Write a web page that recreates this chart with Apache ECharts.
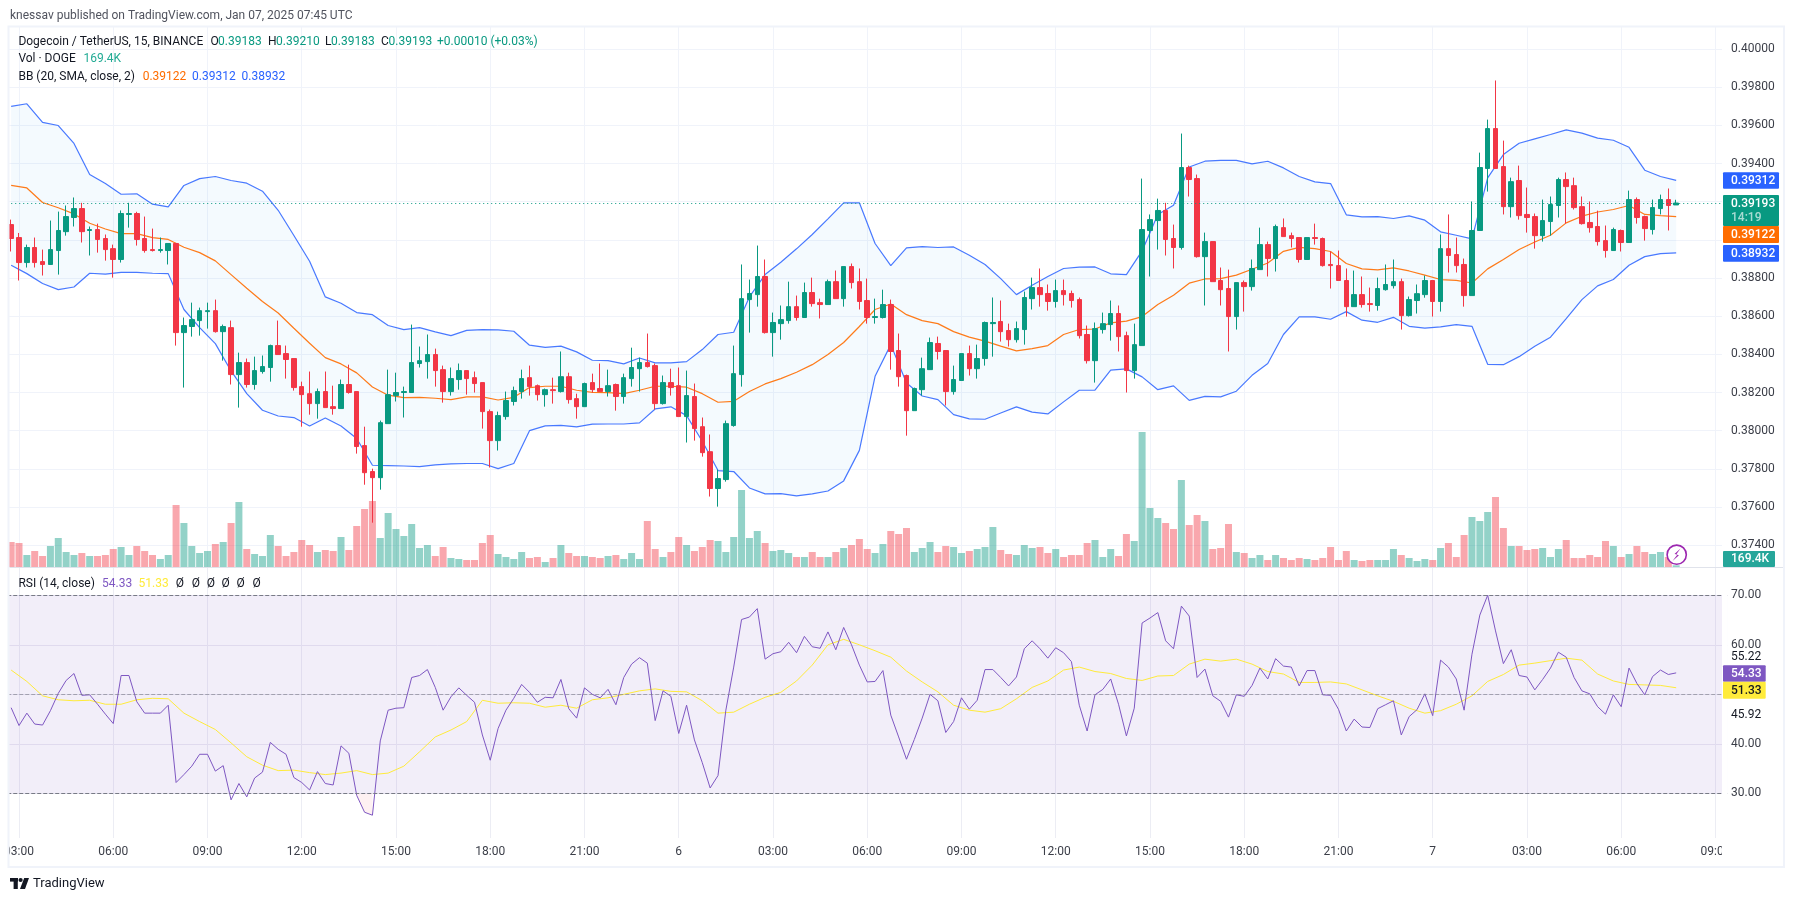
<!DOCTYPE html>
<html><head><meta charset="utf-8">
<style>html,body{margin:0;padding:0;background:#fff}#c{width:1794px;height:901px}</style>
<script src="https://cdn.jsdelivr.net/npm/echarts@6/dist/echarts.min.js"></script>
</head><body><div id="c"></div>
<script>
const FONT='Roboto';
const priceTicks=[0.374,0.376,0.378,0.38,0.382,0.384,0.386,0.388,0.39,0.392,0.394,0.396,0.398,0.4];
const rsiTicks=[30,40,50,60,70];
const open=[.39080,.39012,.38881,.38960,.38886,.38871,.38944,.39043,.39117,.39164,.39049,.39054,.39007,.38954,.38897,.39133,.39138,.39007,.38949,.38944,.38944,.38981,.38514,.38546,.38577,.38624,.38629,.38519,.38540,.38294,.38357,.38242,.38310,.38331,.38446,.38404,.38378,.38231,.38194,.38142,.38205,.38126,.38116,.38242,.38205,.37922,.37786,.37754,.38037,.38184,.38200,.38200,.38352,.38362,.38399,.38320,.38205,.38268,.38315,.38278,.38252,.38100,.37948,.38074,.38153,.38205,.38278,.38236,.38189,.38215,.38205,.38283,.38168,.38126,.38252,.38221,.38205,.38242,.38179,.38273,.38325,.38357,.38341,.38142,.38252,.38236,.38074,.38179,.38021,.37890,.37697,.37744,.38027,.38294,.38687,.38713,.38808,.38514,.38561,.38577,.38650,.38593,.38724,.38671,.38661,.38781,.38692,.38860,.38781,.38682,.38593,.38593,.38661,.38420,.38289,.38105,.38215,.38320,.38457,.38420,.38205,.38263,.38404,.38325,.38378,.38561,.38572,.38525,.38477,.38530,.38692,.38750,.38719,.38677,.38734,.38719,.38687,.38504,.38367,.38530,.38556,.38614,.38498,.38315,.38446,.39049,.39101,.39154,.39007,.38960,.39379,.39321,.38912,.38991,.38787,.38745,.38598,.38776,.38755,.38844,.38975,.38902,.39064,.39022,.39012,.38897,.39012,.39007,.38871,.38865,.38787,.38650,.38713,.38666,.38656,.38739,.38760,.38781,.38603,.38682,.38713,.38787,.38677,.38954,.38923,.38871,.38708,.39049,.39374,.39583,.39384,.39174,.39311,.39133,.39122,.39022,.39096,.39180,.39316,.39284,.39174,.39091,.39070,.38996,.38944,.39049,.38986,.39211,.39122,.39054,.39164,.39211,.39183];
const close=[.39007,.38881,.38960,.38881,.38871,.38949,.39049,.39122,.39164,.39043,.39054,.39002,.38949,.38897,.39138,.39138,.39002,.38944,.38944,.38949,.38981,.38514,.38551,.38582,.38629,.38629,.38519,.38546,.38294,.38357,.38242,.38315,.38336,.38446,.38399,.38373,.38226,.38189,.38142,.38205,.38121,.38116,.38242,.38200,.37917,.37780,.37754,.38042,.38189,.38200,.38205,.38357,.38367,.38399,.38315,.38205,.38273,.38315,.38273,.38247,.38100,.37948,.38079,.38158,.38210,.38273,.38231,.38189,.38215,.38210,.38283,.38163,.38126,.38247,.38215,.38205,.38236,.38179,.38278,.38331,.38357,.38336,.38142,.38252,.38226,.38074,.38184,.38011,.37885,.37697,.37749,.38037,.38299,.38692,.38719,.38808,.38514,.38567,.38582,.38650,.38593,.38724,.38666,.38661,.38781,.38692,.38860,.38776,.38677,.38593,.38598,.38661,.38415,.38283,.38105,.38221,.38325,.38462,.38415,.38205,.38268,.38404,.38325,.38378,.38567,.38567,.38519,.38477,.38535,.38698,.38750,.38713,.38677,.38734,.38713,.38682,.38498,.38367,.38535,.38561,.38614,.38493,.38315,.38451,.39054,.39106,.39154,.39002,.38960,.39379,.39316,.38912,.38991,.38781,.38739,.38598,.38776,.38755,.38850,.38975,.38902,.39070,.39017,.39007,.38897,.39012,.39007,.38865,.38865,.38787,.38650,.38713,.38661,.38661,.38745,.38766,.38781,.38603,.38687,.38718,.38787,.38677,.38954,.38918,.38865,.38708,.39049,.39379,.39583,.39374,.39174,.39305,.39127,.39117,.39022,.39101,.39185,.39316,.39279,.39169,.39085,.39064,.38991,.38944,.39054,.38986,.39211,.39117,.39059,.39169,.39211,.39180,.39193];
const low=[.38939,.38787,.38855,.38855,.38813,.38871,.38818,.39022,.39070,.38986,.38918,.38933,.38891,.38802,.38881,.39064,.38970,.38933,.38939,.38933,.38871,.38446,.38226,.38493,.38498,.38535,.38514,.38367,.38242,.38121,.38226,.38215,.38299,.38257,.38399,.38273,.38210,.38021,.38084,.38063,.38121,.38084,.38116,.38194,.37880,.37717,.37518,.37691,.38037,.38153,.38069,.38200,.38331,.38273,.38231,.38147,.38184,.38215,.38189,.38200,.38011,.37807,.37896,.38058,.38132,.38168,.38184,.38158,.38126,.38142,.38200,.38142,.38063,.38126,.38200,.38205,.38179,.38105,.38142,.38231,.38205,.38331,.38111,.38137,.38184,.38074,.37938,.37948,.37864,.37655,.37602,.37733,.38021,.38231,.38514,.38650,.38509,.38388,.38477,.38561,.38577,.38593,.38650,.38588,.38661,.38692,.38650,.38745,.38635,.38561,.38561,.38588,.38320,.38231,.37974,.38105,.38184,.38320,.38373,.38132,.38189,.38263,.38289,.38273,.38341,.38388,.38467,.38441,.38462,.38451,.38635,.38650,.38629,.38645,.38656,.38645,.38483,.38352,.38252,.38509,.38472,.38415,.38200,.38273,.38446,.38808,.38949,.38918,.38850,.38949,.39227,.38907,.38656,.38781,.38656,.38415,.38530,.38624,.38734,.38844,.38808,.38834,.39017,.38960,.38881,.38897,.38975,.38860,.38745,.38787,.38598,.38650,.38645,.38624,.38629,.38734,.38745,.38530,.38598,.38614,.38697,.38598,.38624,.38829,.38829,.38650,.38708,.39049,.39253,.39374,.39133,.39117,.39106,.39038,.38954,.38991,.39022,.39117,.39085,.39159,.39080,.39038,.38970,.38907,.38944,.38939,.38986,.39085,.38996,.39028,.39133,.39049,.39183];
const high=[.39106,.39036,.38975,.39012,.38949,.39101,.39148,.39180,.39222,.39194,.39070,.39085,.39028,.38975,.39154,.39194,.39147,.39122,.39059,.39012,.38981,.38984,.38593,.38671,.38645,.38671,.38687,.38556,.38577,.38409,.38378,.38388,.38394,.38451,.38577,.38446,.38378,.38257,.38310,.38221,.38310,.38236,.38268,.38346,.38205,.38021,.37801,.38053,.38320,.38304,.38231,.38556,.38441,.38504,.38430,.38341,.38331,.38352,.38315,.38310,.38252,.38111,.38100,.38205,.38231,.38320,.38341,.38242,.38221,.38278,.38415,.38304,.38194,.38252,.38299,.38352,.38320,.38247,.38299,.38435,.38383,.38509,.38352,.38289,.38325,.38331,.38315,.38247,.38069,.37980,.37796,.38053,.38446,.38871,.38792,.38970,.38897,.38619,.38656,.38781,.38708,.38776,.38802,.38692,.38792,.38839,.38860,.38876,.38850,.38797,.38692,.38739,.38687,.38509,.38294,.38226,.38383,.38488,.38493,.38420,.38341,.38404,.38446,.38451,.38572,.38698,.38682,.38561,.38572,.38729,.38802,.38850,.38766,.38792,.38792,.38734,.38698,.38551,.38567,.38619,.38682,.38656,.38519,.38561,.39321,.39133,.39216,.39194,.39080,.39557,.39389,.39342,.39038,.38991,.38855,.38844,.38776,.38787,.38897,.39064,.38991,.39080,.39112,.39038,.39012,.39012,.39085,.39012,.38939,.38944,.38850,.38839,.38808,.38750,.38802,.38871,.38897,.38797,.38703,.38766,.38813,.38787,.39028,.39133,.39012,.38902,.39201,.39457,.39630,.39835,.39520,.39326,.39389,.39274,.39138,.39211,.39227,.39326,.39353,.39326,.39227,.39201,.39153,.39075,.39064,.39054,.39258,.39222,.39127,.39211,.39237,.39269,.39210];
const volumeM=[2.5,2.4,1.2,1.6,1.1,2.1,2.9,1.5,1.2,1.4,1.1,1.1,1.2,1.8,2.0,1.2,2.1,1.6,1.2,0.8,1.2,6.2,4.4,2.1,1.4,1.6,2.3,2.5,4.4,6.5,1.8,1.3,1.1,3.2,2.1,1.1,1.5,2.7,2.2,1.5,1.7,1.6,3.0,1.7,4.1,5.8,6.6,2.9,5.4,3.8,3.1,4.3,1.9,2.2,1.1,2.0,0.9,0.8,0.7,0.7,2.4,3.2,1.3,1.0,0.8,1.5,0.9,1.0,0.5,0.9,2.2,1.4,1.1,1.1,1.0,0.9,1.1,1.2,0.8,1.4,0.8,4.6,1.8,1.0,1.5,3.0,2.2,1.6,2.0,2.7,2.6,1.5,3.0,7.7,2.9,3.6,2.4,1.6,1.7,1.4,1.0,1.0,1.5,1.0,1.0,1.5,1.9,2.2,2.8,1.8,1.4,2.3,3.6,3.3,3.9,1.5,1.9,2.5,1.5,2.1,2.0,1.4,1.6,1.8,2.0,4.0,1.7,1.3,1.2,2.2,1.9,2.0,1.4,1.8,1.0,1.2,1.2,2.4,2.7,1.0,1.8,1.1,3.3,2.6,13.5,5.9,4.9,4.4,3.8,8.7,4.2,5.2,4.6,1.8,1.9,4.3,1.5,1.4,0.9,1.2,0.7,1.2,0.9,0.7,0.9,0.8,0.7,0.9,2.0,0.7,1.6,0.7,0.6,0.7,0.7,0.7,1.8,1.2,0.9,0.6,0.8,0.7,1.9,2.4,1.0,3.2,5.0,4.6,5.5,7.0,3.9,2.1,2.1,1.7,1.8,1.9,1.0,1.8,2.7,0.9,0.9,1.2,1.0,2.6,2.1,1.0,1.3,2.1,1.5,1.3,1.5,1.0,0.1694];
const rsi=[47.3,43.7,46.2,44.0,43.8,46.7,50.2,52.8,54.2,49.8,49.9,48.0,46.0,44.1,53.8,53.8,48.5,46.2,46.2,46.2,47.8,32.2,33.8,35.5,37.9,37.9,34.5,35.6,28.7,32.0,29.3,33.1,34.3,40.3,38.9,37.9,33.2,32.2,30.7,34.4,32.0,31.7,39.6,38.1,29.6,26.2,25.6,40.6,46.8,47.2,47.3,53.4,53.8,55.0,51.4,46.8,49.5,51.3,49.8,48.4,41.8,36.7,43.1,46.8,49.2,52.0,50.4,48.4,49.4,49.3,53.0,47.1,45.2,51.3,50.0,49.3,51.0,47.9,53.4,56.1,57.4,56.3,44.7,50.7,49.6,42.1,47.8,40.8,36.2,31.1,33.6,46.8,55.5,65.1,65.6,67.3,57.1,58.2,58.6,60.5,58.4,61.7,59.6,59.3,62.6,59.0,63.5,60.0,55.9,52.5,52.6,54.8,45.8,41.4,36.9,40.9,45.2,50.0,48.7,42.3,44.5,49.3,47.0,48.8,55.0,55.0,53.4,51.7,53.5,59.2,60.8,59.2,57.3,59.4,58.4,56.6,47.8,42.6,49.9,51.0,53.1,48.0,41.6,47.2,64.4,65.4,66.5,60.8,59.2,67.8,65.8,53.4,55.1,49.7,48.6,45.4,49.9,49.6,51.8,55.3,53.1,57.2,55.7,55.5,51.7,54.8,54.8,49.9,49.8,47.0,42.6,45.0,43.4,43.3,47.1,47.9,48.7,41.8,45.5,46.9,50.1,45.7,56.9,55.5,53.1,46.8,58.1,66.0,70.0,62.8,56.2,59.0,53.8,53.5,50.9,53.0,55.3,58.5,57.5,53.4,50.7,50.1,47.5,46.0,49.9,47.5,55.3,52.2,49.9,53.6,54.9,54.0,54.33];
// The four series below were read every second bar (bars 1,3,5,...)
const bbUpper=[.39699,.39713,.39616,.39599,.39505,.39342,.39295,.39239,.39241,.39187,.39173,.39285,.39321,.39332,.39311,.39297,.39255,.39155,.39023,.38888,.38701,.38668,.38619,.38608,.38551,.38530,.38540,.38518,.38498,.38526,.38530,.38528,.38521,.38448,.38437,.38443,.38413,.38369,.38367,.38350,.38381,.38355,.38355,.38362,.38425,.38504,.38516,.38701,.38818,.38883,.38953,.39028,.39110,.39194,.39194,.38981,.38865,.38958,.38965,.38960,.38963,.38919,.38871,.38797,.38713,.38762,.38808,.38850,.38857,.38858,.38822,.38818,.38942,.39133,.39181,.39382,.39412,.39416,.39416,.39398,.39412,.39377,.39332,.39304,.39295,.39131,.39120,.39122,.39112,.39126,.39103,.39042,.39024,.39005,.39325,.39447,.39506,.39529,.39552,.39576,.39559,.39533,.39522,.39485,.39365,.39332,.39312];
const bbBasis=[.39285,.39272,.39196,.39168,.39136,.39087,.39057,.39033,.39033,.39012,.39002,.38961,.38933,.38890,.38818,.38746,.38677,.38617,.38537,.38458,.38383,.38350,.38303,.38229,.38186,.38173,.38175,.38170,.38163,.38177,.38177,.38161,.38175,.38226,.38233,.38233,.38212,.38201,.38200,.38194,.38212,.38233,.38233,.38228,.38194,.38149,.38154,.38205,.38245,.38273,.38306,.38346,.38399,.38462,.38546,.38635,.38664,.38608,.38577,.38561,.38519,.38490,.38469,.38443,.38418,.38430,.38446,.38504,.38530,.38533,.38565,.38574,.38598,.38661,.38710,.38773,.38795,.38797,.38815,.38846,.38879,.38940,.38961,.38954,.38939,.38876,.38848,.38843,.38853,.38837,.38815,.38792,.38788,.38774,.38848,.38897,.38949,.38989,.39024,.39089,.39124,.39146,.39159,.39180,.39133,.39127,.39122];
const bbLower=[.38867,.38823,.38771,.38739,.38753,.38825,.38820,.38830,.38830,.38825,.38823,.38635,.38540,.38456,.38313,.38194,.38107,.38077,.38069,.38025,.38067,.38025,.37959,.37819,.37817,.37815,.37812,.37821,.37826,.37828,.37828,.37801,.37828,.38000,.38025,.38028,.38020,.38034,.38035,.38035,.38041,.38114,.38125,.38079,.37945,.37791,.37786,.37700,.37669,.37670,.37658,.37669,.37684,.37737,.37897,.38285,.38451,.38250,.38182,.38163,.38084,.38062,.38060,.38093,.38125,.38097,.38088,.38151,.38212,.38212,.38317,.38324,.38282,.38215,.38235,.38159,.38180,.38177,.38207,.38290,.38352,.38504,.38596,.38596,.38584,.38624,.38579,.38568,.38594,.38547,.38537,.38544,.38556,.38547,.38348,.38346,.38388,.38442,.38490,.38587,.38687,.38759,.38792,.38867,.38912,.38928,.38932];
const rsiMA=[54.9,52.6,49.7,48.9,48.7,48.8,48.0,48.0,48.9,49.2,49.1,46.2,44.5,42.9,40.2,37.4,35.7,34.6,34.7,34.2,33.8,34.1,34.6,33.8,34.1,35.5,38.4,41.4,42.8,44.5,48.8,48.2,48.3,48.2,47.4,47.8,47.2,48.9,49.3,50.0,50.7,51.1,50.6,50.5,48.7,46.2,46.4,48.0,49.4,50.4,52.7,55.9,60.0,61.1,60.0,58.8,57.5,54.7,52.5,50.5,47.8,46.8,46.4,47.1,49.1,51.4,52.7,54.9,55.5,54.6,54.2,53.2,52.8,53.7,53.8,56.1,57.1,56.7,57.1,56.1,54.6,54.1,52.4,52.4,52.5,52.1,50.9,49.7,48.6,47.2,46.2,46.7,48.0,49.7,52.6,54.0,55.9,56.3,56.8,57.3,56.9,54.1,52.7,52.0,51.9,51.8,51.33];
const lastPrice=0.39193;
const GREEN='#089981',RED='#F23645',BLUE='#2962FF',ORANGE='#FF6D00',PURPLE='#7E57C2',YELLOW='#FFEB3B',INK='#131722';

// 02:45 on Jan 5 through the empty bars right of the last candle
const categories=[];
for(let i=0,m=2*60+45,d=5;i<219;i++,m+=15){
  if(m>=1440){m-=1440;d++;}
  const hh=String(Math.floor(m/60)).padStart(2,'0'),mm=String(m%60).padStart(2,'0');
  categories.push(m===0?String(d):hh+':'+mm);
}
const isMajor=(i,v)=>/^(\d|(03|06|09|12|15|18|21):00)$/.test(v);
const pairs=a=>a.map((v,k)=>[2*k,v]);
const ohlc=open.map((o,i)=>[o,close[i],low[i],high[i]]);
const volData=volumeM.map((v,i)=>({value:v,itemStyle:{color:close[i]>=open[i]?'rgba(8,153,129,.44)':'rgba(242,54,69,.44)'}}));
const gridColor='#f0f3fa';
const G=(o)=>Object.assign({left:7.22,width:1720},o);
const bandPoly=bbUpper.map((v,k)=>[2*k,v,bbLower[k]]);

const legendPieces=[
 [42.3,18.4,'Dogecoin / TetherUS, 15, BINANCE',INK],[42.3,210.5,'O',INK],[42.3,218,'0.39183',GREEN],[42.3,268,'H',INK],[42.3,276,'0.39210',GREEN],[42.3,325,'L',INK],[42.3,331,'0.39183',GREEN],[42.3,381,'C',INK],[42.3,388.5,'0.39193',GREEN],[42.3,437,'+0.00010 (+0.03%)',GREEN],
 [59.3,18.4,'Vol · DOGE',INK],[59.3,83.4,'169.4K','#22ab94'],
 [76.5,18.4,'BB (20, SMA, close, 2)',INK],[76.5,142.7,'0.39122',ORANGE],[76.5,192,'0.39312',BLUE],[76.5,241.5,'0.38932',BLUE],
 [583.5,18.4,'RSI (14, close)',INK],[583.5,102,'54.33',PURPLE],[583.5,138.5,'51.33',YELLOW],
 [583.5,175.7,'Ø',INK],[583.5,191.7,'Ø',INK],[583.5,206.7,'Ø',INK],[583.5,221.6,'Ø',INK],[583.5,236.5,'Ø',INK],[583.5,252.6,'Ø',INK]
];
const T=(x,y,text,fill,size,weight,z)=>({type:'text',z:z||60,x,y,silent:true,style:{text,fill,font:`${weight||400} ${size||12}px ${FONT}`,verticalAlign:'middle',textAlign:'left'}});
const R=(x,y,w,h,fill,z,r)=>({type:'rect',z:z||55,silent:true,shape:{x,y,width:w,height:h,r:r||0},style:{fill}});
const tags=[
 [172.3,16.4,56,BLUE,'0.39312','#fff'],[195,31,56,GREEN,'0.39193','#fff'],[226,17,56,ORANGE,'0.39122','#fff'],[245,16.7,56,BLUE,'0.38932','#fff'],
 [551,16,52,'#26a69a','169.4K','#fff'],[665.2,16.6,42.7,PURPLE,'54.33','#fff'],[681.8,17,42.7,YELLOW,'51.33',INK]
];
const graphic=[
 R(0,0,9,901,'#fff',50),R(1722,27,5.5,811,'#fff',50),R(1722,838,62,28,'#fff',50),
 R(0,0,1794,26,'#fff',50),R(0,868,1794,33,'#fff',50),R(1785,0,9,901,'#fff',50),
 {type:'rect',z:51,silent:true,shape:{x:8.5,y:26.5,width:1775.5,height:840.5},style:{fill:'none',stroke:gridColor,lineWidth:2}},
 {type:'line',z:52,silent:true,shape:{x1:9.6,y1:567.5,x2:1783,y2:567.5},style:{stroke:'#e0e3eb',lineWidth:1}},
 T(10,15.5,'knessav published on TradingView.com, Jan 07, 2025 07:45 UTC','#50535e',12),
 ...legendPieces.map(p=>T(p[1],p[0],p[2],p[3],12)),
 ...tags.map(t=>R(1723,t[0],t[2],t[1],t[3],56,1)),
 ...tags.map(t=>T(1731,t[0]+(t[4]==='0.39193'?8.5:t[1]/2+.3),t[4],t[5],12,500,57)),
 T(1731,218,'14:19','rgba(255,255,255,.65)',12,500,57),
 T(1731,656.7,'55.22',INK,12,400,57),T(1731,714.7,'45.92',INK,12,400,57),
 {type:'circle',z:58,silent:true,shape:{cx:1676.7,cy:554.7,r:9.6},style:{fill:'#fff',stroke:'#9C27B0',lineWidth:1.6}},
 {type:'polygon',z:59,silent:true,shape:{points:[[1680.5,548.5],[1674.5,554],[1677.5,554.5],[1672.5,561],[1679,555.2],[1676,554.8]]},style:{fill:'#9C27B0'}},
 R(10,878,8,3.6,INK,60),R(13.6,878,4.2,11,INK,60),
 {type:'circle',z:60,silent:true,shape:{cx:20.6,cy:880,r:2.1},style:{fill:INK}},
 {type:'polygon',z:60,silent:true,shape:{points:[[24.2,878],[29,878],[25,889],[20,889]]},style:{fill:INK}},
 T(33,883.5,'TradingView',INK,13)
];

const chart=echarts.init(document.getElementById('c'),null,{renderer:'canvas'});
chart.setOption({
 animation:false,backgroundColor:'#fff',
 textStyle:{fontFamily:FONT},
 grid:[G({top:27,height:540}),G({top:407,height:160}),G({top:568,height:270})],
 xAxis:[
  {type:'category',gridIndex:0,data:categories,axisLine:{show:false},axisTick:{show:false},axisLabel:{show:false},
   splitLine:{show:true,interval:isMajor,alignWithLabel:true,lineStyle:{color:gridColor,width:1}}},
  {type:'category',gridIndex:1,data:categories,axisLine:{show:false},axisTick:{show:false},axisLabel:{show:false},splitLine:{show:false}},
  {type:'category',gridIndex:2,data:categories,axisLine:{show:false},axisTick:{show:false},
   axisLabel:{interval:isMajor,color:'#3b3e48',fontSize:12,fontFamily:FONT,margin:8,hideOverlap:false},
   splitLine:{show:true,interval:isMajor,alignWithLabel:true,lineStyle:{color:'#ecedf4',width:1}}}
 ],
 yAxis:[
  {type:'value',gridIndex:0,position:'right',min:0.372858,max:0.401153,axisLine:{show:false},axisTick:{show:false,customValues:priceTicks},
   axisLabel:{customValues:priceTicks,formatter:v=>v.toFixed(5),color:'#3b3e48',fontSize:12,fontFamily:FONT,margin:3.8,padding:[2,0,0,0]},
   splitLine:{show:true,lineStyle:{color:gridColor,width:1}}},
  {type:'value',gridIndex:1,position:'right',min:0,max:16,show:false,splitLine:{show:false}},
  {type:'value',gridIndex:2,position:'right',min:21,max:75.5,axisLine:{show:false},axisTick:{show:false,customValues:rsiTicks},
   axisLabel:{customValues:rsiTicks,formatter:v=>v.toFixed(2),color:'#3b3e48',fontSize:12,fontFamily:FONT,margin:3.8,padding:[2,0,0,0]},
   splitLine:{show:true,lineStyle:{color:'#ebe9f3',width:1}}}
 ],
 graphic:{elements:graphic},
 series:[
  {type:'custom',name:'BB band',xAxisIndex:0,yAxisIndex:0,z:1,silent:true,clip:true,data:bandPoly,
   encode:{x:0,y:[1,2]},
   renderItem(params,api){
    if(params.dataIndex!==0)return {type:'group',children:[]};
    const up=bandPoly.map(r=>api.coord([r[0],r[1]]));
    const lo=bandPoly.map(r=>api.coord([r[0],r[2]])).reverse();
    return {type:'polygon',shape:{points:up.concat(lo)},style:{fill:'rgba(33,150,243,.05)'}};
   }},
  {type:'custom',name:'RSI oversold fill',xAxisIndex:2,yAxisIndex:2,z:2,silent:true,clip:true,data:rsi.map((v,i)=>[i,v]),
   encode:{x:0,y:1},
   renderItem(params,api){
    const i=params.dataIndex;
    if(i===0)return {type:'group',children:[]};
    const a=rsi[i-1],b=rsi[i];
    if(a>=30&&b>=30)return {type:'group',children:[]};
    const pts=[];
    const cross=(i-1)+(30-a)/(b-a);
    if(a<30){pts.push(api.coord([i-1,30]),api.coord([i-1,a]));}else{pts.push(api.coord([cross,30]));}
    if(b<30){pts.push(api.coord([i,b]),api.coord([i,30]));}else{pts.push(api.coord([cross,30]));}
    return {type:'polygon',shape:{points:pts},style:{fill:'rgba(242,54,69,.07)'}};
   }},
  {type:'bar',name:'Vol',xAxisIndex:1,yAxisIndex:1,z:2,barWidth:7,data:volData,silent:true},
  {type:'line',name:'BB upper',xAxisIndex:0,yAxisIndex:0,z:3,data:pairs(bbUpper),showSymbol:false,lineStyle:{color:BLUE,width:1.2,opacity:.85},silent:true},
  {type:'line',name:'BB lower',xAxisIndex:0,yAxisIndex:0,z:3,data:pairs(bbLower),showSymbol:false,lineStyle:{color:BLUE,width:1.2,opacity:.85},silent:true},
  {type:'line',name:'BB basis',xAxisIndex:0,yAxisIndex:0,z:3,data:pairs(bbBasis),showSymbol:false,lineStyle:{color:ORANGE,width:1.2,opacity:.9},silent:true},
  {type:'candlestick',name:'DOGEUSDT',xAxisIndex:0,yAxisIndex:0,z:4,barWidth:5,data:ohlc,silent:true,
   itemStyle:{color:GREEN,color0:RED,borderColor:GREEN,borderColor0:RED,borderWidth:1},
   markLine:{silent:true,symbol:'none',precision:5,label:{show:false},lineStyle:{color:GREEN,type:[1,3],width:1},data:[{yAxis:lastPrice}]}},
  {type:'line',name:'RSI MA',xAxisIndex:2,yAxisIndex:2,z:3,data:pairs(rsiMA),showSymbol:false,lineStyle:{color:YELLOW,width:1},silent:true},
  {type:'line',name:'RSI',xAxisIndex:2,yAxisIndex:2,z:4,data:rsi,showSymbol:false,lineStyle:{color:PURPLE,width:1},silent:true,
   markArea:{silent:true,itemStyle:{color:'rgba(126,87,194,.1)'},data:[[{yAxis:70},{yAxis:30}]]},
   markLine:{silent:true,symbol:'none',label:{show:false},data:[
     {yAxis:70,lineStyle:{color:'#787B86',type:'dashed',width:1}},
     {yAxis:50,lineStyle:{color:'rgba(120,123,134,.6)',type:'dashed',width:1}},
     {yAxis:30,lineStyle:{color:'#787B86',type:'dashed',width:1}}]}}
 ]
});
</script></body></html>
